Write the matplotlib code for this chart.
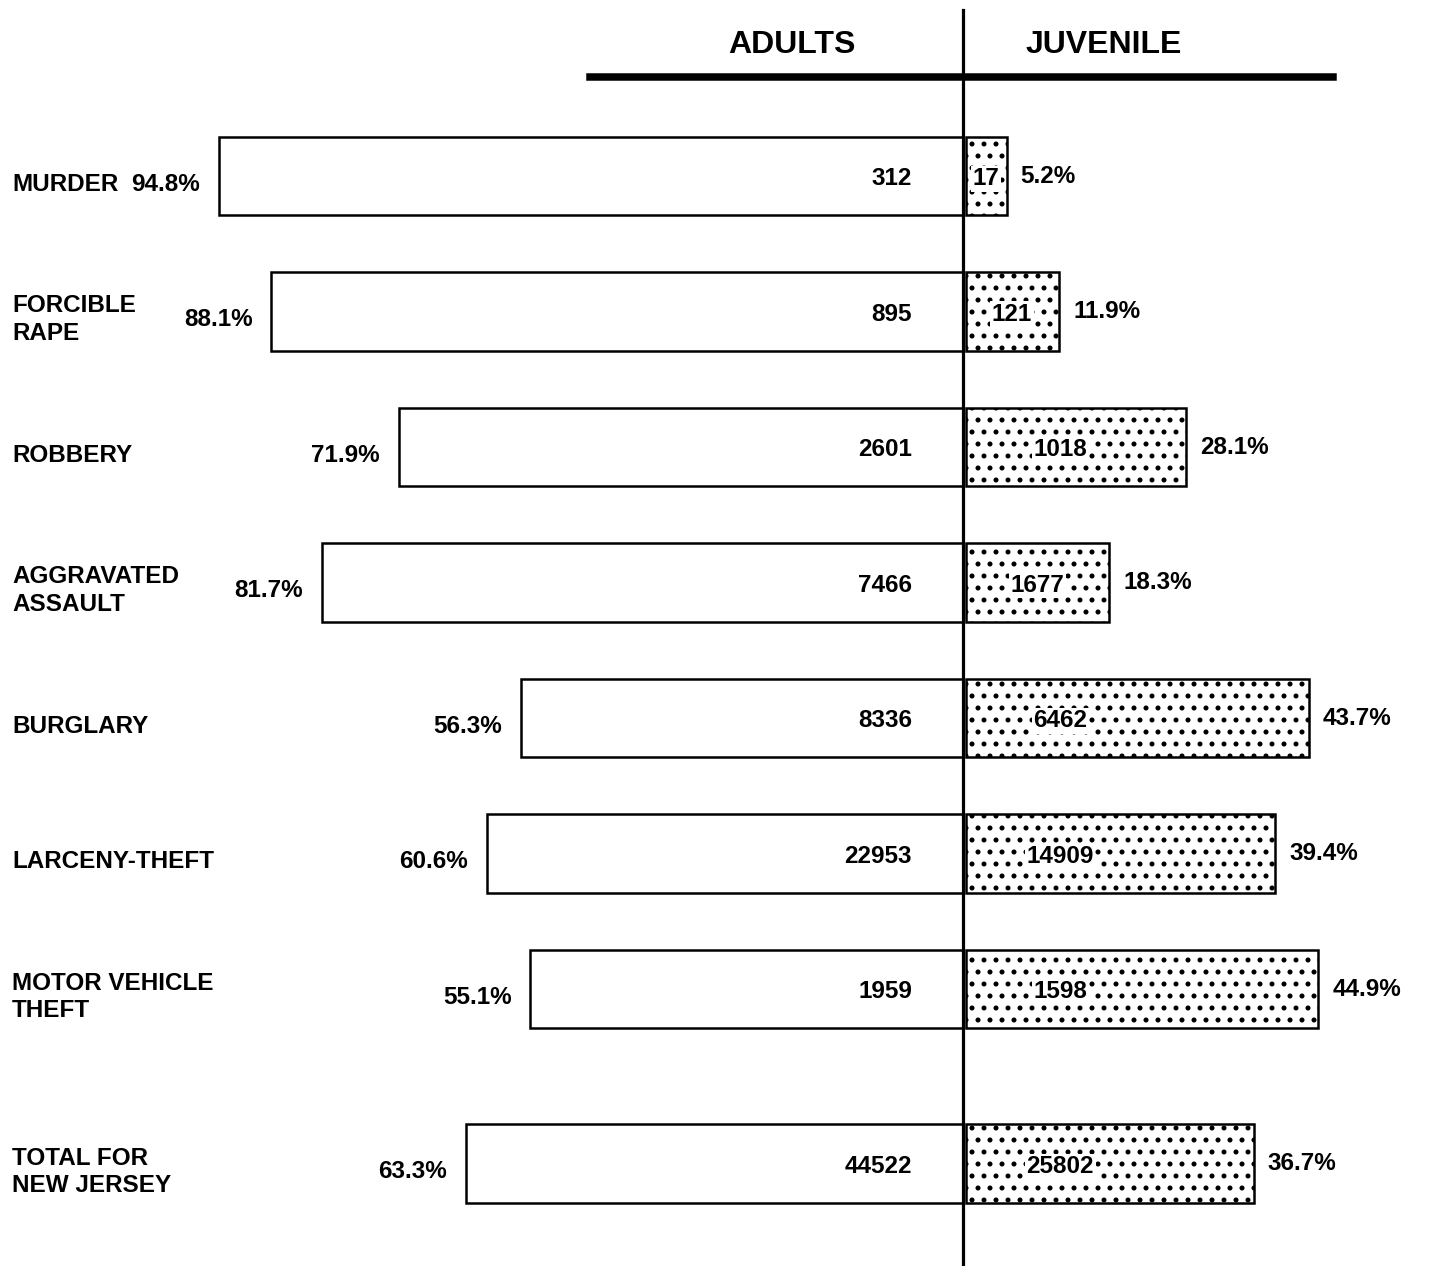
import numpy as np
import matplotlib
matplotlib.use("Agg")
import matplotlib.pyplot as plt
from matplotlib.lines import Line2D

# dpi 72 so 1 pt == 1 px, and the '.' hatch gets a tighter dot grid
DPI = 72
plt.rcParams['font.family'] = ['Liberation Sans', 'DejaVu Sans']
plt.rcParams['hatch.linewidth'] = 2.6

categories = ["MURDER", "FORCIBLE\nRAPE", "ROBBERY", "AGGRAVATED\nASSAULT", "BURGLARY",
              "LARCENY-THEFT", "MOTOR VEHICLE\nTHEFT", "TOTAL FOR\nNEW JERSEY"]
adult_pct = [94.8, 88.1, 71.9, 81.7, 56.3, 60.6, 55.1, 63.3]
juv_pct = [5.2, 11.9, 28.1, 18.3, 43.7, 39.4, 44.9, 36.7]
adult_n = [312, 895, 2601, 7466, 8336, 22953, 1959, 44522]
juv_n = [17, 121, 1018, 1677, 6462, 14909, 1598, 25802]

W, H = 1446, 1266
fig = plt.figure(figsize=((W + 0.01) / DPI, (H + 0.01) / DPI), dpi=DPI)
ax = fig.add_axes([0, 0, 1, 1])
ax.axis('off')

# layout: center line at 963 px, ~7.85 px per percent, rows 135.5 px apart
pxpct = 7.85
cx = 963
ax.set_xlim(-cx / pxpct, (W - cx) / pxpct)
row = 135.5
top = 176
ax.set_ylim((H - top) / row, -top / row)

ypos = np.arange(len(categories)) + np.r_[np.zeros(len(categories) - 1), 0.29]
bh = 0.58

ax.barh(ypos, [-p for p in adult_pct], height=bh, color='white', edgecolor='black', linewidth=2.5, zorder=2)
ax.barh(ypos, juv_pct, left=0.35, height=bh, color='white', edgecolor='black', linewidth=2.5,
        hatch='.', zorder=2)

fs = 24.3
for y, cat, ap, jp, an, jn in zip(ypos, categories, adult_pct, juv_pct, adult_n, juv_n):
    yt = y + 0.06
    ax.text(-cx / pxpct + 12 / pxpct, yt, cat, ha='left', va='center', fontsize=fs,
            fontweight='bold', linespacing=1.25)
    ax.annotate(f"{ap}%", (-ap, yt), xytext=(-19, 0), textcoords='offset points',
                ha='right', va='center', fontsize=fs, fontweight='bold')
    ax.text(-6.5, y + 0.02, str(an), ha='right', va='center', fontsize=fs, fontweight='bold', zorder=4)
    ax.text(min(jp / 2 + 0.3, 12.4), y + 0.02, str(jn), ha='center', va='center', fontsize=fs,
            fontweight='bold', zorder=4,
            bbox=dict(facecolor='white', edgecolor='none', pad=1.5))
    ax.annotate(f"{jp}%", (jp + 0.35, y), xytext=(14, 0), textcoords='offset points',
                ha='left', va='center', fontsize=fs, fontweight='bold')

# center axis line and header rule
ax.axvline(0, ymin=0, ymax=1 - 10 / H, color='black', linewidth=3.2, zorder=5)
fig.add_artist(Line2D([590 / W, 1333 / W], [1 - 77 / H, 1 - 77 / H], color='black', linewidth=7.5))
hdr = dict(fontsize=32, fontweight='bold', ha='center', va='center')
fig.text(792 / W, 1 - 45 / H, "ADULTS", **hdr)
fig.text(1104 / W, 1 - 45 / H, "JUVENILE", **hdr)

fig.savefig("out.png", dpi=DPI, facecolor='white')
